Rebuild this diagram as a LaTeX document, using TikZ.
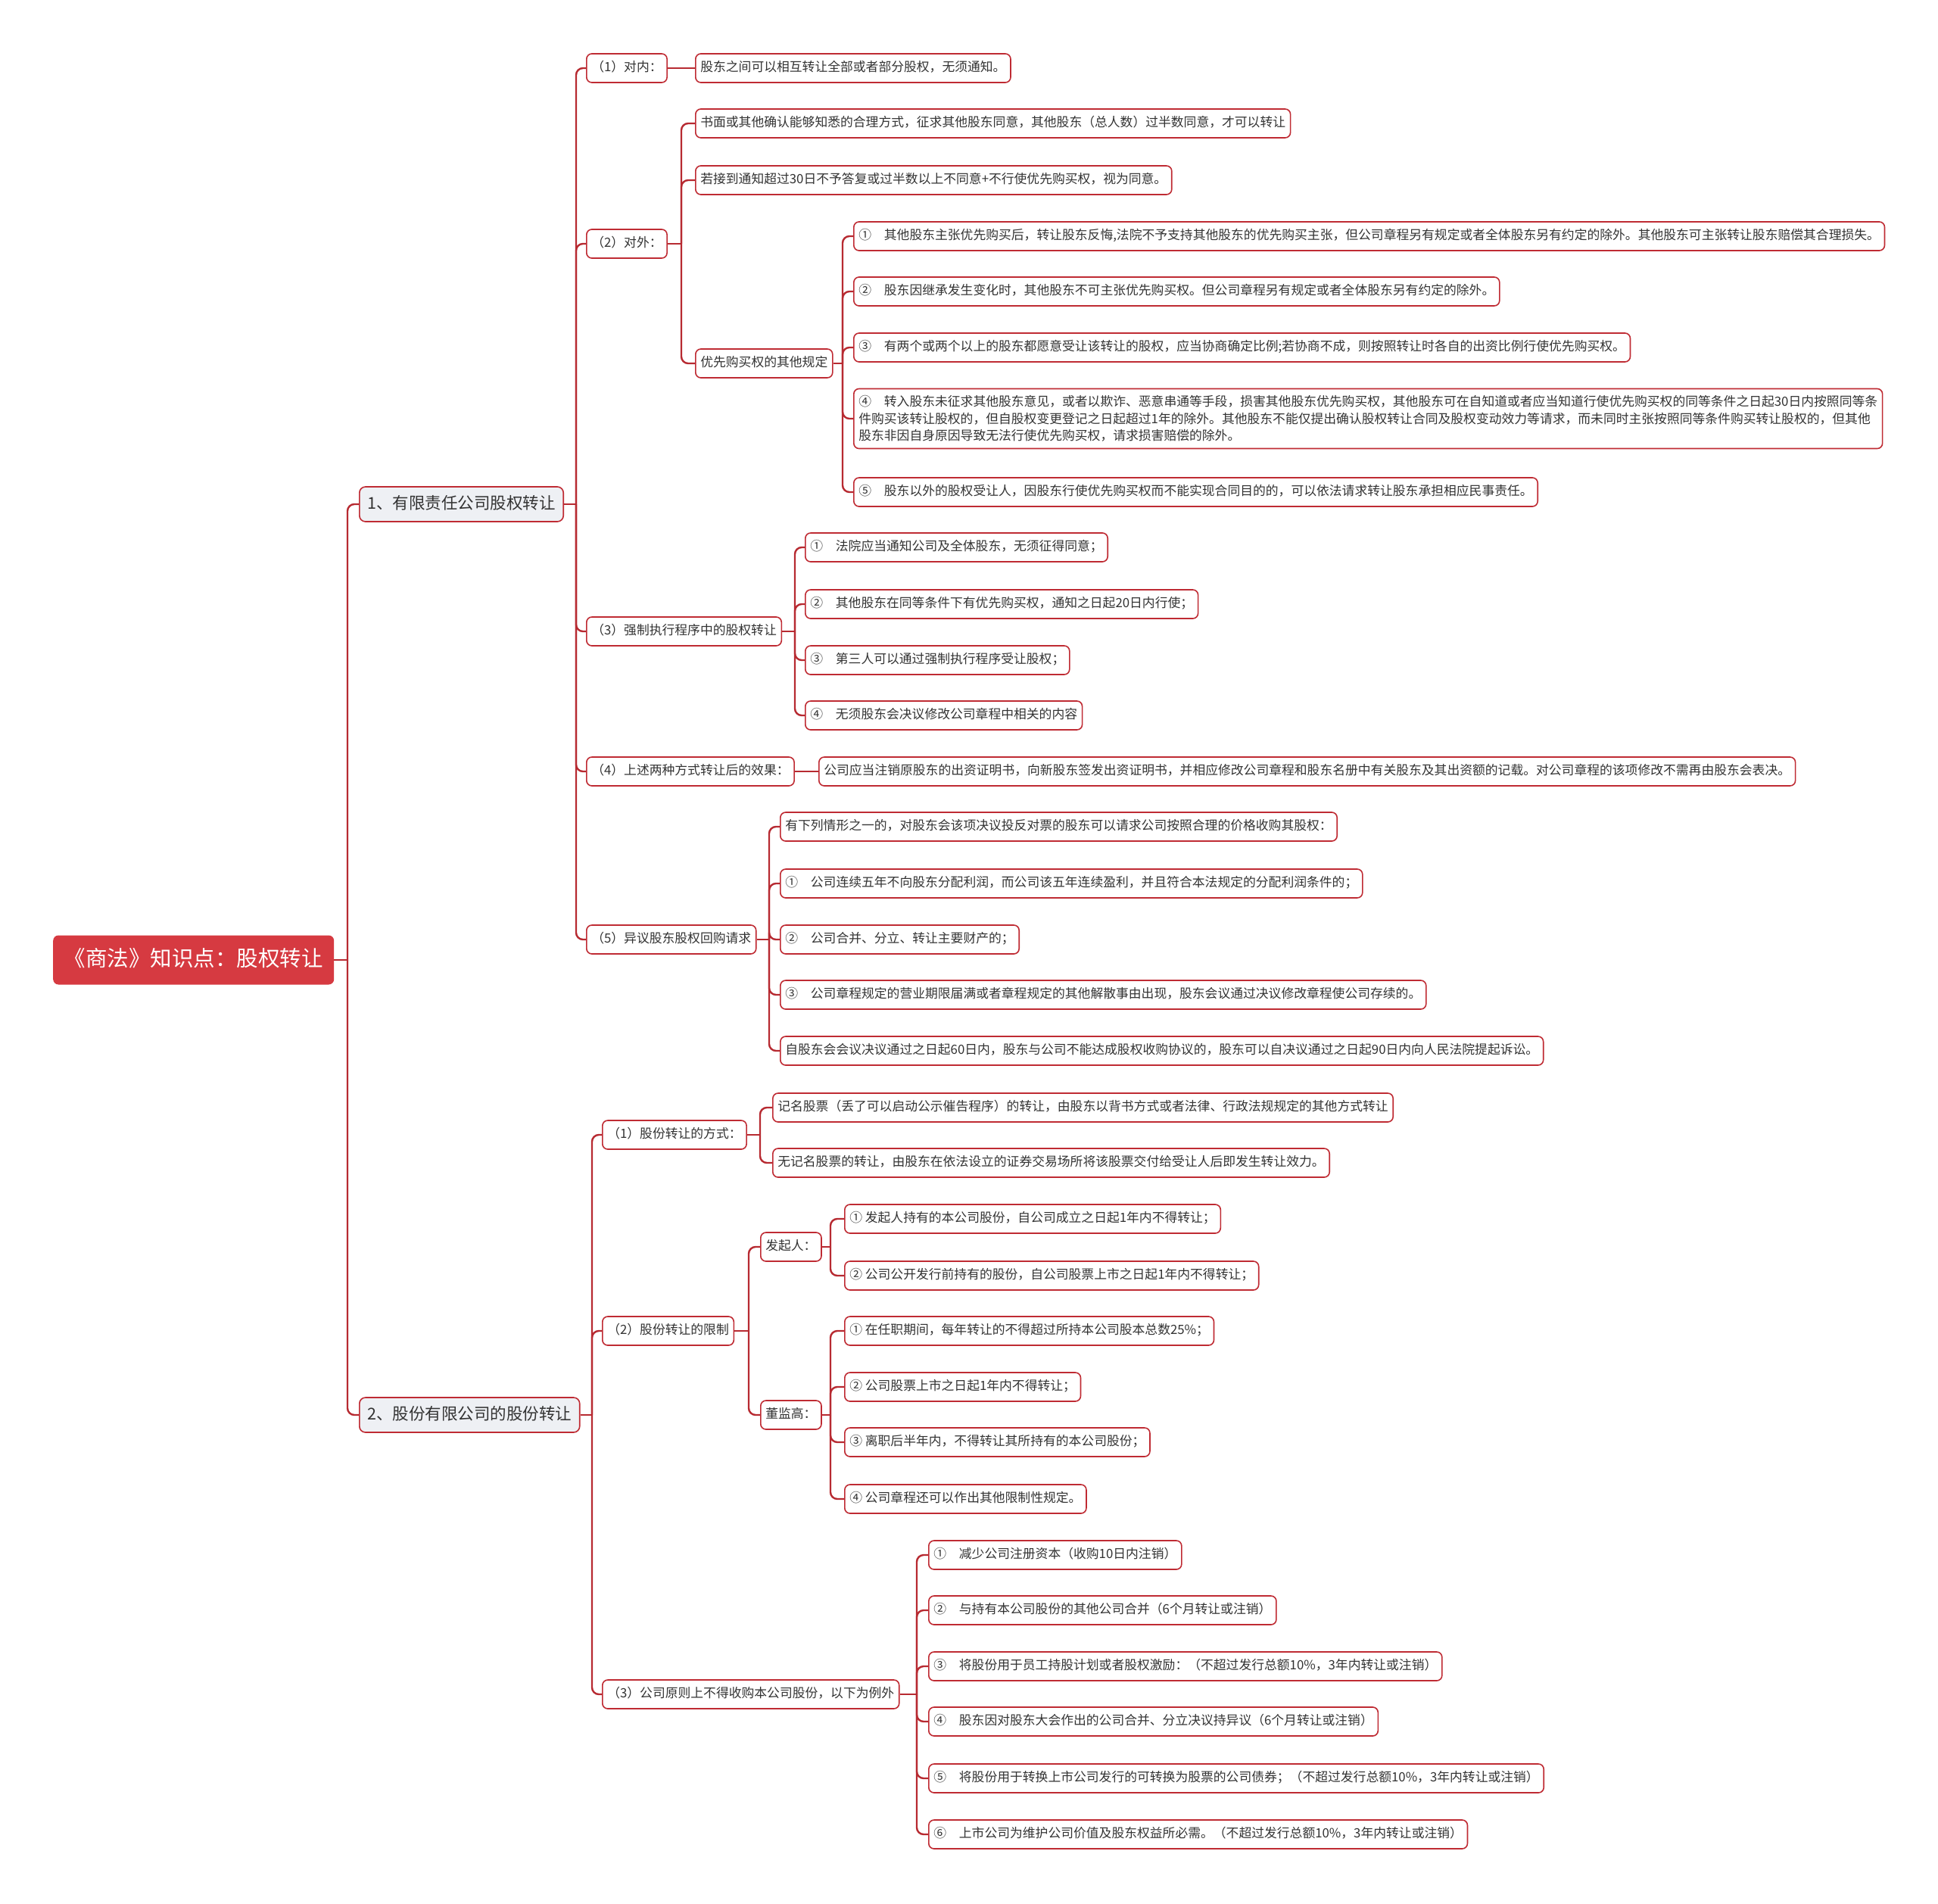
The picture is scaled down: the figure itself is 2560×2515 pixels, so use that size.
\documentclass[tikz,border=0pt]{standalone}
\usepackage{fontspec}
\setmainfont{Noto Sans CJK SC}
\definecolor{connred}{HTML}{B72A31}
\definecolor{bordred}{HTML}{BF2B33}
\definecolor{rootred}{HTML}{D63A41}
\definecolor{lonefill}{HTML}{EEF0F4}
\definecolor{txt}{HTML}{333333}
\begin{document}
\begin{tikzpicture}[x=1pt,y=-1pt,
  conn/.style={draw=connred, line width=2.4pt, rounded corners=9pt},
  box/.style={draw=bordred, line width=1.6pt, rounded corners=7pt, fill=white, text=txt, anchor=west,
    inner xsep=6.5pt, inner ysep=0pt, minimum height=38pt, text height=12.8pt, text depth=3.2pt,
    font=\fontsize{16.8}{22.5}\selectfont},
  mbox/.style={draw=bordred, line width=1.6pt, rounded corners=7pt, fill=white, text=txt, anchor=west,
    inner xsep=6.5pt, inner ysep=9pt, align=left, font=\fontsize{16.8}{22.5}\selectfont},
  lone/.style={draw=bordred, line width=1.6pt, rounded corners=8pt, fill=lonefill, text=txt, anchor=west,
    inner xsep=10.5pt, inner ysep=0pt, minimum height=46pt, text height=16.5pt, text depth=4pt,
    font=\fontsize{21.5}{26}\selectfont},
  rootbox/.style={fill=rootred, rounded corners=7pt, text=white, anchor=west,
    inner xsep=14.5pt, inner ysep=0pt, minimum height=65pt, text height=22pt, text depth=5.5pt,
    font=\fontsize{28.5}{34}\selectfont}
]
\path[fill=white] (0,0) rectangle (2560,2515);

% ---------- nodes ----------
\node[rootbox] (root) at (70,1268) {《商法》知识点：股权转让};
\node[lone] (A) at (474,666) {1、有限责任公司股权转让};
\node[lone] (B) at (474,1869) {2、股份有限公司的股份转让};

% part A
\node[box] (A1) at (774,90) {（1）对内：};
\node[box] (A2) at (774,322) {（2）对外：};
\node[box] (A3) at (774,834) {（3）强制执行程序中的股权转让};
\node[box] (A4) at (774,1019) {（4）上述两种方式转让后的效果：};
\node[box] (A5) at (774,1241) {（5）异议股东股权回购请求};

\node[box] (A1a) at (918,90) {股东之间可以相互转让全部或者部分股权，无须通知。};

\node[box] (A2a) at (918,163) {书面或其他确认能够知悉的合理方式，征求其他股东同意，其他股东（总人数）过半数同意，才可以转让};
\node[box] (A2b) at (918,238) {若接到通知超过30日不予答复或过半数以上不同意+不行使优先购买权，视为同意。};
\node[box] (A2c) at (918,480) {优先购买权的其他规定};

\node[box] (P1) at (1127,312) {①　其他股东主张优先购买后，转让股东反悔,法院不予支持其他股东的优先购买主张，但公司章程另有规定或者全体股东另有约定的除外。其他股东可主张转让股东赔偿其合理损失。};
\node[box] (P2) at (1127,385) {②　股东因继承发生变化时，其他股东不可主张优先购买权。但公司章程另有规定或者全体股东另有约定的除外。};
\node[box] (P3) at (1127,459) {③　有两个或两个以上的股东都愿意受让该转让的股权，应当协商确定比例;若协商不成，则按照转让时各自的出资比例行使优先购买权。};
\node[mbox] (P4) at (1127,553) {④　转入股东未征求其他股东意见，或者以欺诈、恶意串通等手段，损害其他股东优先购买权，其他股东可在自知道或者应当知道行使优先购买权的同等条件之日起30日内按照同等条\\件购买该转让股权的，但自股权变更登记之日起超过1年的除外。其他股东不能仅提出确认股权转让合同及股权变动效力等请求，而未同时主张按照同等条件购买转让股权的，但其他\\股东非因自身原因导致无法行使优先购买权，请求损害赔偿的除外。};
\node[box] (P5) at (1127,650) {⑤　股东以外的股权受让人，因股东行使优先购买权而不能实现合同目的的，可以依法请求转让股东承担相应民事责任。};

\node[box] (A3a) at (1063,723) {①　法院应当通知公司及全体股东，无须征得同意；};
\node[box] (A3b) at (1063,798) {②　其他股东在同等条件下有优先购买权，通知之日起20日内行使；};
\node[box] (A3c) at (1063,872) {③　第三人可以通过强制执行程序受让股权；};
\node[box] (A3d) at (1063,945) {④　无须股东会决议修改公司章程中相关的内容};

\node[box] (A4a) at (1081,1019) {公司应当注销原股东的出资证明书，向新股东签发出资证明书，并相应修改公司章程和股东名册中有关股东及其出资额的记载。对公司章程的该项修改不需再由股东会表决。};

\node[box] (A5a) at (1030,1092) {有下列情形之一的，对股东会该项决议投反对票的股东可以请求公司按照合理的价格收购其股权：};
\node[box] (A5b) at (1030,1167) {①　公司连续五年不向股东分配利润，而公司该五年连续盈利，并且符合本法规定的分配利润条件的；};
\node[box] (A5c) at (1030,1241) {②　公司合并、分立、转让主要财产的；};
\node[box] (A5d) at (1030,1314) {③　公司章程规定的营业期限届满或者章程规定的其他解散事由出现，股东会议通过决议修改章程使公司存续的。};
\node[box] (A5e) at (1030,1388) {自股东会会议决议通过之日起60日内，股东与公司不能达成股权收购协议的，股东可以自决议通过之日起90日内向人民法院提起诉讼。};

% part B
\node[box] (B1) at (795,1499) {（1）股份转让的方式：};
\node[box] (B2) at (795,1758) {（2）股份转让的限制};
\node[box] (B3) at (795,2238) {（3）公司原则上不得收购本公司股份，以下为例外};

\node[box] (B1a) at (1020,1463) {记名股票（丢了可以启动公示催告程序）的转让，由股东以背书方式或者法律、行政法规规定的其他方式转让};
\node[box] (B1b) at (1020,1536) {无记名股票的转让，由股东在依法设立的证券交易场所将该股票交付给受让人后即发生转让效力。};

\node[box] (F) at (1004,1647) {发起人：};
\node[box] (D) at (1004,1869) {董监高：};

\node[box] (F1) at (1115,1610) {① 发起人持有的本公司股份，自公司成立之日起1年内不得转让；};
\node[box] (F2) at (1115,1685) {② 公司公开发行前持有的股份，自公司股票上市之日起1年内不得转让；};

\node[box] (D1) at (1115,1758) {① 在任职期间，每年转让的不得超过所持本公司股本总数25\%；};
\node[box] (D2) at (1115,1832) {② 公司股票上市之日起1年内不得转让；};
\node[box] (D3) at (1115,1905) {③ 离职后半年内，不得转让其所持有的本公司股份；};
\node[box] (D4) at (1115,1980) {④ 公司章程还可以作出其他限制性规定。};

\node[box] (E1) at (1226,2054) {①　减少公司注册资本（收购10日内注销）};
\node[box] (E2) at (1226,2127) {②　与持有本公司股份的其他公司合并（6个月转让或注销）};
\node[box] (E3) at (1226,2201) {③　将股份用于员工持股计划或者股权激励：（不超过发行总额10\%，3年内转让或注销）};
\node[box] (E4) at (1226,2274) {④　股东因对股东大会作出的公司合并、分立决议持异议（6个月转让或注销）};
\node[box] (E5) at (1226,2349) {⑤　将股份用于转换上市公司发行的可转换为股票的公司债券；（不超过发行总额10\%，3年内转让或注销）};
\node[box] (E6) at (1226,2423) {⑥　上市公司为维护公司价值及股东权益所必需。（不超过发行总额10\%，3年内转让或注销）};

% ---------- trunk coordinates ----------
\coordinate (t0) at (459,1268);
\coordinate (tA) at (761,666);
\coordinate (tA2) at (900,322);
\coordinate (tP) at (1113,480);
\coordinate (tA3) at (1050,834);
\coordinate (tA5) at (1016,1241);
\coordinate (tB) at (782,1869);
\coordinate (tB1) at (1004,1499);
\coordinate (tB2) at (989,1758);
\coordinate (tF) at (1097,1647);
\coordinate (tD) at (1097,1869);
\coordinate (tB3) at (1211,2238);

% ---------- connectors ----------
\draw[conn] (root.east) -- (t0);
\foreach \c in {A,B} \draw[conn] (t0) |- (\c.west);

\draw[conn] (A.east) -- (tA);
\foreach \c in {A1,A2,A3,A4,A5} \draw[conn] (tA) |- (\c.west);

\draw[conn] (A1.east) -- (A1a.west);

\draw[conn] (A2.east) -- (tA2);
\foreach \c in {A2a,A2b,A2c} \draw[conn] (tA2) |- (\c.west);

\draw[conn] (A2c.east) -- (tP);
\foreach \c in {P1,P2,P3,P4,P5} \draw[conn] (tP) |- (\c.west);

\draw[conn] (A3.east) -- (tA3);
\foreach \c in {A3a,A3b,A3c,A3d} \draw[conn] (tA3) |- (\c.west);

\draw[conn] (A4.east) -- (A4a.west);

\draw[conn] (A5.east) -- (tA5);
\foreach \c in {A5a,A5b,A5c,A5d,A5e} \draw[conn] (tA5) |- (\c.west);

\draw[conn] (B.east) -- (tB);
\foreach \c in {B1,B2,B3} \draw[conn] (tB) |- (\c.west);

\draw[conn] (B1.east) -- (tB1);
\foreach \c in {B1a,B1b} \draw[conn] (tB1) |- (\c.west);

\draw[conn] (B2.east) -- (tB2);
\foreach \c in {F,D} \draw[conn] (tB2) |- (\c.west);

\draw[conn] (F.east) -- (tF);
\foreach \c in {F1,F2} \draw[conn] (tF) |- (\c.west);

\draw[conn] (D.east) -- (tD);
\foreach \c in {D1,D2,D3,D4} \draw[conn] (tD) |- (\c.west);

\draw[conn] (B3.east) -- (tB3);
\foreach \c in {E1,E2,E3,E4,E5,E6} \draw[conn] (tB3) |- (\c.west);
\end{tikzpicture}
\end{document}
